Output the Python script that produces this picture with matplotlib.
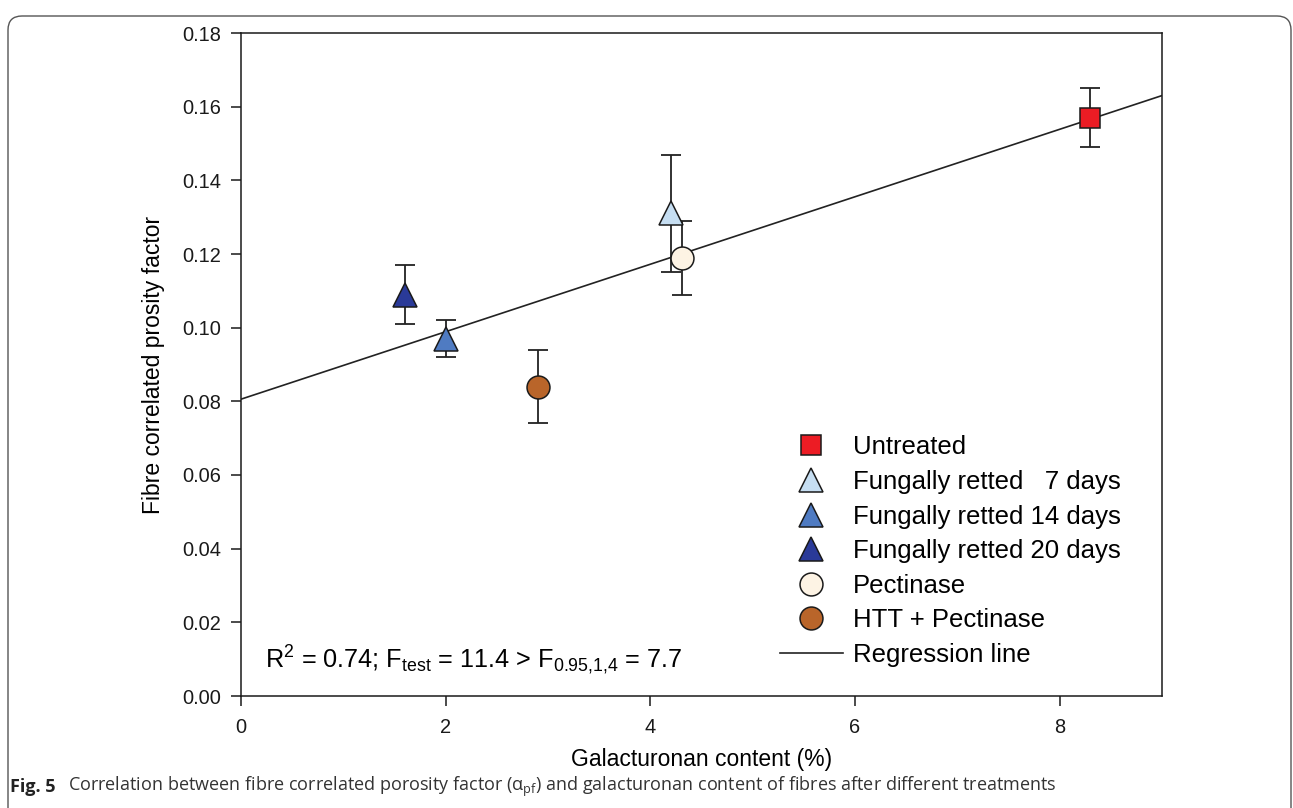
import numpy as np
import matplotlib.pyplot as plt
from matplotlib.patches import FancyBboxPatch

plt.rcParams['font.family'] = ['Liberation Sans', 'DejaVu Sans']
plt.rcParams['mathtext.fontset'] = 'custom'
plt.rcParams['mathtext.rm'] = 'Liberation Sans'
plt.rcParams['mathtext.it'] = 'Liberation Sans:italic'

# data
labels = ["Untreated", "Fungally retted   7 days", "Fungally retted 14 days",
          "Fungally retted 20 days", "Pectinase", "HTT + Pectinase"]
galac = [8.3, 4.2, 2.0, 1.6, 4.31, 2.9]
porosity = [0.157, 0.131, 0.097, 0.109, 0.119, 0.084]
err = [0.008, 0.016, 0.005, 0.008, 0.010, 0.010]
markers = ["s", "^", "^", "^", "o", "o"]
colors = ["#ec1c24", "#c6def2", "#4f7bc2", "#2a3a98", "#fdf3e4", "#b9652a"]
sizes = [15, 17, 17, 17, 16.5, 16.5]

xticks = [0, 2, 4, 6, 8]
yticks = [0.00, 0.02, 0.04, 0.06, 0.08, 0.10, 0.12, 0.14, 0.16, 0.18]

#%%
fig = plt.figure(figsize=(12.93, 8.08), dpi=100)
ax = fig.add_axes([241/1293, 112/808, 921/1293, 663/808])

# regression line from the points
slope, icpt = np.polyfit(galac, porosity, 1)
xl = np.array([0, 9])
ax.plot(xl, icpt + slope*xl, color="#222222", lw=1.2, zorder=1, label="Regression line")

ax.errorbar(galac, porosity, yerr=err, fmt="none", ecolor="#222222",
            elinewidth=1.3, capsize=7, capthick=1.3, zorder=2)

handles = []
for i in range(len(labels)):
    h, = ax.plot(galac[i], porosity[i], marker=markers[i], ms=sizes[i],
                 mfc=colors[i], mec="#1a1a1a", mew=1.1, ls="none",
                 zorder=3, label=labels[i])
    handles.append(h)
handles.append(ax.get_lines()[0])

ax.legend(handles=handles, loc="upper left", bbox_to_anchor=(0.585, 0.393),
          frameon=False, fontsize=18.5, borderpad=0, borderaxespad=0,
          handlelength=2.45, handletextpad=0.4, labelspacing=0.41)

ax.text(0.026, 0.042,
        r"R$^2$ = 0.74; F$_\mathrm{test}$ = 11.4 > F$_\mathrm{0.95{,}1{,}4}$ = 7.7",
        transform=ax.transAxes, fontsize=18.2, va="baseline", ha="left")

ax.set_xlim(0, 9)
ax.set_ylim(0, 0.18)
ax.set_xticks(xticks)
ax.set_yticks(yticks)
ax.set_yticklabels(["%.2f" % v for v in yticks])
ax.tick_params(direction="out", length=7, width=1.1, labelsize=14.4, pad=7,
               colors="#1a1a1a")
ax.tick_params(axis="x", pad=9)
for s in ax.spines.values():
    s.set_linewidth(1.1)
    s.set_color("#1a1a1a")

ax.set_xlabel("Galacturonan content (%)", fontsize=16.5)
ax.set_ylabel("Fibre correlated prosity factor", fontsize=16.5)
ax.xaxis.set_label_coords(0.5, -0.078)
ax.yaxis.set_label_coords(-0.083, 0.5)

# caption
fig.text(10/1293, 1 - 787/808, r"Fig. 5", fontsize=13, fontweight="bold",
         family="Open Sans", color="#222222", va="center")
fig.text(68/1293, 1 - 787/808,
         r"Correlation between fibre correlated porosity factor (α$_\mathregular{pf}$) "
         "and galacturonan content of fibres after different treatments",
         fontsize=13, family="Open Sans", color="#333333", va="center")

# panel border
border = FancyBboxPatch((8, -30), 1283, 830 - 8, boxstyle="round,pad=0,rounding_size=14",
                        transform=None, fill=False, ec="#555555", lw=1.0)
fig.patches.append(border)

fig.savefig("out.png", dpi=100)
